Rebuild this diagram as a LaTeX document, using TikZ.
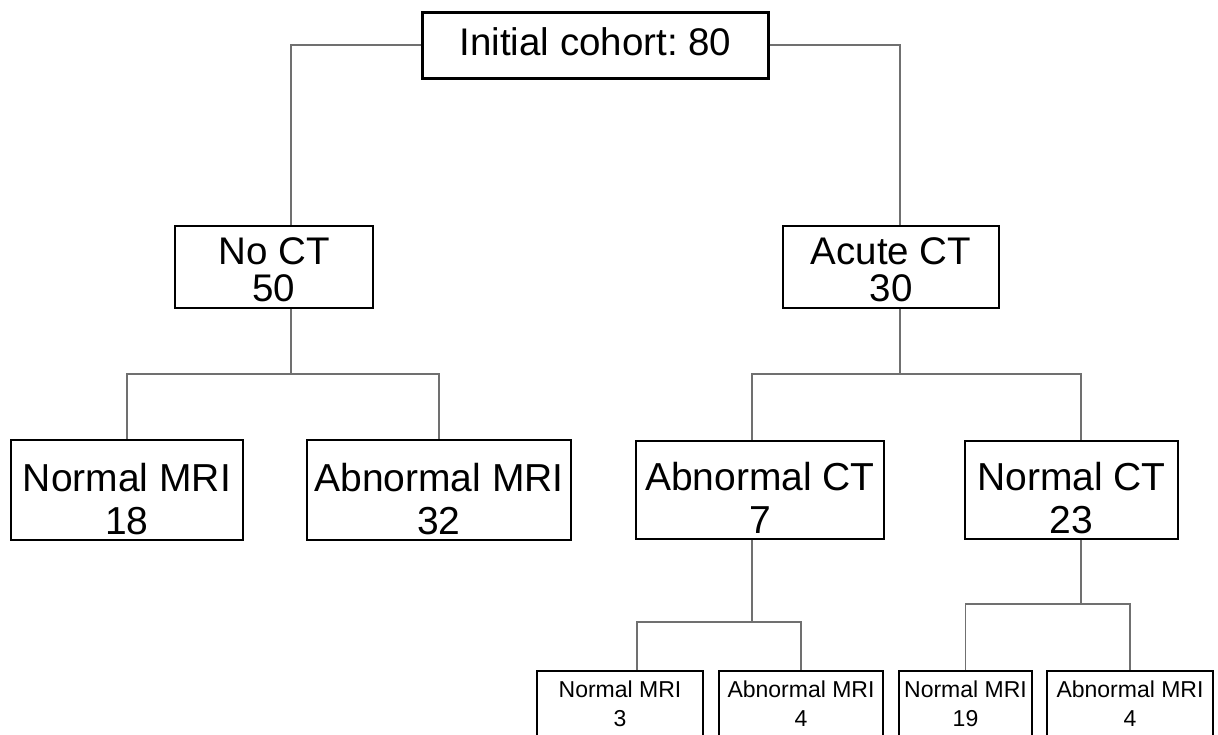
\documentclass[tikz,border=0pt]{standalone}
\usepackage{fontspec}
\setmainfont{Liberation Sans}
\frenchspacing
\definecolor{conncol}{HTML}{707070}
\begin{document}
\begin{tikzpicture}[x=1pt,y=-1pt,
  box/.style={draw=black, line width=2.8pt, fill=white, inner sep=0pt},
  conn/.style={draw=conncol, line width=1.8pt},
  txt/.style={inner sep=0pt, anchor=north, align=center, text=black},
  ftop/.style={font=\fontsize{38.5}{36}\selectfont},
  fone/.style={font=\fontsize{38.5}{37}\selectfont},
  ftwo/.style={font=\fontsize{39}{43}\selectfont},
  fthree/.style={font=\fontsize{23}{29}\selectfont}]
\useasboundingbox (0,0) rectangle (1218,735);
\clip (0,0) rectangle (1218,735);
% boxes
\node[box, minimum width=345.6pt, minimum height=66pt] (top) at (595.5,45.3) {};
\node[box, minimum width=198pt, minimum height=82pt] (noct) at (274,267) {};
\node[box, minimum width=216pt, minimum height=82pt] (acute) at (891,267) {};
\node[box, minimum width=232pt, minimum height=100pt] (nmri) at (127,490) {};
\node[box, minimum width=264pt, minimum height=100pt] (amri) at (439,490) {};
\node[box, minimum width=248pt, minimum height=98pt] (abct) at (760,490) {};
\node[box, minimum width=213pt, minimum height=98pt] (nct) at (1071.5,490) {};
\node[box, minimum width=166pt, minimum height=99pt] (b1) at (620,720.5) {};
\node[box, minimum width=164pt, minimum height=99pt] (b2) at (801,720.5) {};
\node[box, minimum width=133pt, minimum height=99pt] (b3) at (965.5,720.5) {};
\node[box, minimum width=166pt, minimum height=99pt] (b4) at (1130,720.5) {};
% texts
\node[txt, ftop] (ttop) at (595.5,27.4) {Initial cohort: 80};
\node[txt, fone] (tnoct) at (274,237.4) {No CT\\50};
\node[txt, fone] (tacute) at (891,237.4) {Acute CT\\30};
\node[txt, ftwo] (tnmri) at (127,463) {Normal MRI\\18};
\node[txt, ftwo] (tamri) at (439,463) {Abnormal MRI\\32};
\node[txt, ftwo] (tabct) at (760,462.5) {Abnormal CT\\7};
\node[txt, ftwo] (tnct) at (1071.5,462.5) {Normal CT\\23};
\node[txt, fthree] (tb1) at (620,680.5) {Normal MRI\\3};
\node[txt, fthree] (tb2) at (801,680.5) {Abnormal MRI\\4};
\node[txt, fthree] (tb3) at (965.5,680.5) {Normal MRI\\19};
\node[txt, fthree] (tb4) at (1130,680.5) {Abnormal MRI\\4};
% junctions
\coordinate (jL) at (291,374);
\coordinate (jR) at (900,374);
\coordinate (kA) at (752,374);
\coordinate (kN) at (1081,374);
\coordinate (j3) at (752,622);
\coordinate (k1) at (637,622);
\coordinate (j4) at (1081,604);
% connectors
\draw[conn] (top.west) -| (noct.north -| jL);
\draw[conn] (top.east) -| (acute.north -| jR);
\draw[conn] (noct.south -| jL) -- (jL);
\draw[conn] (nmri.north) |- (jL) -| (amri.north);
\draw[conn] (acute.south -| jR) -- (jR);
\draw[conn] (abct.north -| kA) |- (jR) -| (nct.north -| kN);
\draw[conn] (abct.south -| j3) -- (j3);
\draw[conn] (b1.north -| k1) |- (j3) -| (b2.north);
\draw[conn] (nct.south -| j4) -- (j4);
\draw[conn] (b3.north) |- (j4) -| (b4.north);
\end{tikzpicture}
\end{document}
